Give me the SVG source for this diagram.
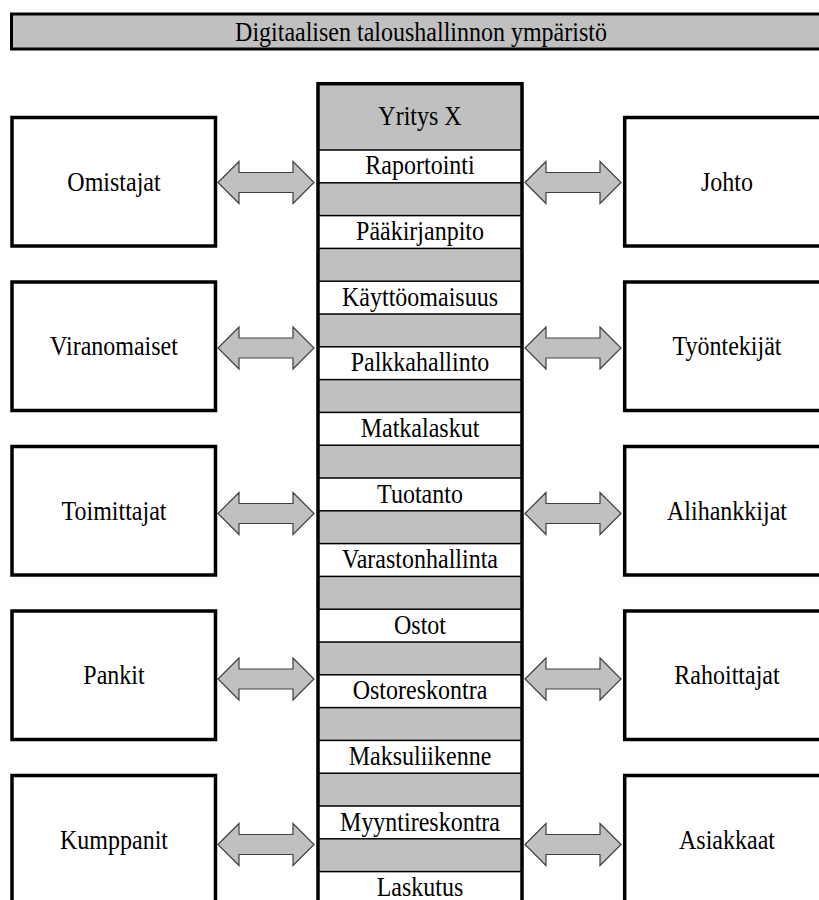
<svg xmlns="http://www.w3.org/2000/svg" width="819" height="900" viewBox="0 0 819 900">
<style>
  .t { font-size: 24px; fill: #000; text-anchor: middle; }
  .bar { fill: #c0c0c0; stroke: #000; stroke-width: 3; }
  .box { fill: #fff; stroke: #000; stroke-width: 3.5; }
  .colbg { fill: #c0c0c0; stroke: none; }
  .row { fill: #fff; stroke: #000; stroke-width: 1.5; }
  .colborder { fill: none; stroke: #000; stroke-width: 3.5; }
  .arrow { fill: #c0c0c0; stroke: #404040; stroke-width: 1.2; stroke-linejoin: miter; }
</style>
<defs>
  <path id="dblarrow" class="arrow" d="M0,0 L21,-21 L21,-10 L75,-10 L75,-21 L96,0 L75,21 L75,10 L21,10 L21,21 Z"/>
</defs>
<rect width="819" height="900" fill="#fff"/>
<g style="font-family: 'Liberation Serif', 'Times New Roman', 'DejaVu Serif', serif">

<g id="title">
  <rect class="bar" x="11.5" y="14" width="830" height="35"/>
  <text class="t" transform="translate(421,41) scale(1,1.1)">Digitaalisen taloushallinnon ympäristö</text>
</g>

<g id="yritys-x">
  <rect class="colbg" x="318" y="83.5" width="204" height="830"/>
  <text class="t" transform="translate(420,125) scale(1,1.1)">Yritys X</text>
  <g id="raportointi"><rect class="row" x="318" y="150" width="204" height="32.8"/><text class="t" transform="translate(420,174) scale(1,1.1)">Raportointi</text></g>
  <g id="paakirjanpito"><rect class="row" x="318" y="215.6" width="204" height="32.8"/><text class="t" transform="translate(420,240.1) scale(1,1.1)">Pääkirjanpito</text></g>
  <g id="kayttoomaisuus"><rect class="row" x="318" y="281.2" width="204" height="32.8"/><text class="t" transform="translate(420,305.7) scale(1,1.1)">Käyttöomaisuus</text></g>
  <g id="palkkahallinto"><rect class="row" x="318" y="346.8" width="204" height="32.8"/><text class="t" transform="translate(420,371.3) scale(1,1.1)">Palkkahallinto</text></g>
  <g id="matkalaskut"><rect class="row" x="318" y="412.4" width="204" height="32.8"/><text class="t" transform="translate(420,436.9) scale(1,1.1)">Matkalaskut</text></g>
  <g id="tuotanto"><rect class="row" x="318" y="478" width="204" height="32.8"/><text class="t" transform="translate(420,502.5) scale(1,1.1)">Tuotanto</text></g>
  <g id="varastonhallinta"><rect class="row" x="318" y="543.6" width="204" height="32.8"/><text class="t" transform="translate(420,568.1) scale(1,1.1)">Varastonhallinta</text></g>
  <g id="ostot"><rect class="row" x="318" y="609.2" width="204" height="32.8"/><text class="t" transform="translate(420,633.7) scale(1,1.1)">Ostot</text></g>
  <g id="ostoreskontra"><rect class="row" x="318" y="674.8" width="204" height="32.8"/><text class="t" transform="translate(420,699.3) scale(1,1.1)">Ostoreskontra</text></g>
  <g id="maksuliikenne"><rect class="row" x="318" y="740.4" width="204" height="32.8"/><text class="t" transform="translate(420,764.9) scale(1,1.1)">Maksuliikenne</text></g>
  <g id="myyntireskontra"><rect class="row" x="318" y="806" width="204" height="32.8"/><text class="t" transform="translate(420,830.5) scale(1,1.1)">Myyntireskontra</text></g>
  <g id="laskutus"><rect class="row" x="318" y="871.6" width="204" height="32.8"/><text class="t" transform="translate(420,896.1) scale(1,1.1)">Laskutus</text></g>
  <rect class="colborder" x="318" y="83.7" width="204" height="830"/>
</g>

<g id="omistajat"><rect class="box" x="12" y="117.5" width="203.5" height="128.5"/><text class="t" transform="translate(114,190.5) scale(1,1.1)">Omistajat</text></g>
<g id="viranomaiset"><rect class="box" x="12" y="282" width="203.5" height="128.5"/><text class="t" transform="translate(114,355) scale(1,1.1)">Viranomaiset</text></g>
<g id="toimittajat"><rect class="box" x="12" y="446.5" width="203.5" height="128.5"/><text class="t" transform="translate(114,519.5) scale(1,1.1)">Toimittajat</text></g>
<g id="pankit"><rect class="box" x="12" y="611" width="203.5" height="128.5"/><text class="t" transform="translate(114,684) scale(1,1.1)">Pankit</text></g>
<g id="kumppanit"><rect class="box" x="12" y="775.5" width="203.5" height="128.5"/><text class="t" transform="translate(114,848.5) scale(1,1.1)">Kumppanit</text></g>

<g id="johto"><rect class="box" x="624.7" y="117.5" width="203.5" height="128.5"/><text class="t" transform="translate(727,190.5) scale(1,1.1)">Johto</text></g>
<g id="tyontekijat"><rect class="box" x="624.7" y="282" width="203.5" height="128.5"/><text class="t" transform="translate(727,355) scale(1,1.1)">Työntekijät</text></g>
<g id="alihankkijat"><rect class="box" x="624.7" y="446.5" width="203.5" height="128.5"/><text class="t" transform="translate(727,519.5) scale(1,1.1)">Alihankkijat</text></g>
<g id="rahoittajat"><rect class="box" x="624.7" y="611" width="203.5" height="128.5"/><text class="t" transform="translate(727,684) scale(1,1.1)">Rahoittajat</text></g>
<g id="asiakkaat"><rect class="box" x="624.7" y="775.5" width="203.5" height="128.5"/><text class="t" transform="translate(727,848.5) scale(1,1.1)">Asiakkaat</text></g>
</g>

<g id="connectors">
  <use href="#dblarrow" transform="translate(218,182.5)"/>
  <use href="#dblarrow" transform="translate(218,348)"/>
  <use href="#dblarrow" transform="translate(218,513.5)"/>
  <use href="#dblarrow" transform="translate(218,679)"/>
  <use href="#dblarrow" transform="translate(218,844.5)"/>
  <use href="#dblarrow" transform="translate(525,182.5)"/>
  <use href="#dblarrow" transform="translate(525,348)"/>
  <use href="#dblarrow" transform="translate(525,513.5)"/>
  <use href="#dblarrow" transform="translate(525,679)"/>
  <use href="#dblarrow" transform="translate(525,844.5)"/>
</g>
</svg>
